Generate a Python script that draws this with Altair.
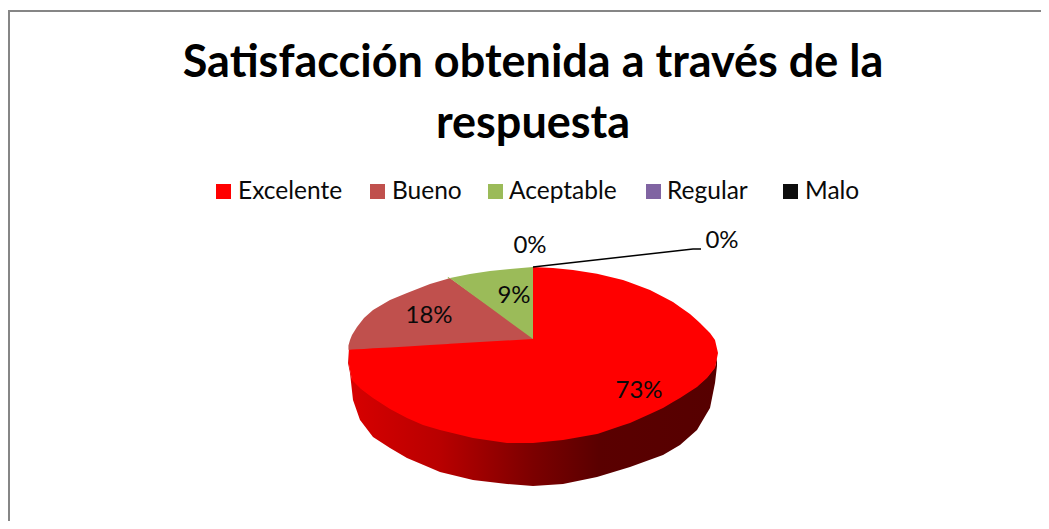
import altair as alt
import numpy as np
import pandas as pd

# ---- values ----
categories = ["Excelente", "Bueno", "Aceptable", "Regular", "Malo"]
shares = [73, 18, 9, 0, 0]
colors = ["#ff0000", "#c0504d", "#9bbb59", "#8064a2", "#0d0d0d"]
title_lines = ["Satisfacción obtenida a través de la", "respuesta"]

# rim of the top face and foot of the side wall (page pixels)
arc_left_x = [348, 350, 352, 357, 364, 373, 390, 407, 430, 450, 470, 490, 510, 533]
arc_left_y = [347, 340, 335, 327, 318, 310, 300, 293, 284, 278, 274, 271, 269, 267]
arc_right_x = [533, 553, 573, 598, 623, 650, 673, 690, 700, 710, 715, 718]
arc_right_y = [267, 268, 270, 274, 280, 290, 302, 314, 323, 333, 340, 353]
rim_x = [348, 349, 352, 361, 373, 390, 407, 423, 440, 473, 507, 533, 563, 597, 630, 663, 680, 697, 707, 715, 718]
rim_y = [349, 365, 380, 389, 398, 409, 418, 425, 430, 438, 443, 443, 440, 434, 423, 408, 398, 387, 378, 368, 353]
foot_x = [348, 350, 353, 360, 373, 390, 407, 440, 473, 507, 533, 563, 597, 630, 663, 680, 697, 710, 715, 717]
foot_y = [363, 373, 400, 420, 437, 448, 458, 472, 480, 484, 486, 484, 477, 467, 455, 445, 430, 408, 383, 366]
wall_stops = [(0.0, "#d80000"), (0.25, "#b80000"), (0.5, "#7c0000"), (0.68, "#5a0000"), (1.0, "#560000")]

pct_labels = ["73%", "18%", "9%", "0%", "0%"]
pct_x = [639, 429, 514, 530, 722]
pct_y = [398, 323, 303, 253, 248]
leader_x = [533, 693, 701]
leader_y = [267, 249, 249]

legend_sq_x = [223.5, 377.5, 495.5, 653.5, 790.5]
legend_tx_x = [238, 392, 509, 667, 805]

# ---- layout helpers ----
VX, VY, A, B, K = 533.0, 339.0, 84.4, 182.0, 0.1724
PAGE_W, PAGE_H = 1033, 513
LAP = 1.0  # lower slice reaches under the one drawn above it, so no seam shows


def edge(share_sum):
    t = np.radians(share_sum * 3.6)
    d = np.cos(t)
    den = 1 + K * d
    return VX + B * np.sin(t) / den, VY - A * d / den


ex, ey = edge(shares[0])
bx, by = edge(shares[0] + shares[1])


def seg(x, x0, y0, x1, y1):
    return np.interp(x, [x0, x1], [y0, y1])


def frame_of(xs, top, bottom, cat):
    return pd.DataFrame(dict(x=np.asarray(xs, float), y=np.asarray(top, float), y2=np.asarray(bottom, float), cat=cat))


# Excelente: left of the vertex under the divider; right of it the full face
xl = np.array(sorted(set(float(x) for x in rim_x if x < VX - LAP) | {VX - LAP}))
xl = xl[xl >= ex]
xr = np.array(sorted(set(rim_x + arc_right_x) - {533}))
xr = xr[xr > VX]
xs = np.concatenate([xl, [VX - LAP + 0.01, VX], xr])
top = np.concatenate([
    seg(xl, ex, ey, VX, VY) - LAP,
    [arc_right_y[0], arc_right_y[0]],
    np.interp(xr, arc_right_x, arc_right_y),
])
df_ex = frame_of(xs, top, np.interp(xs, rim_x, rim_y), categories[0])

# Bueno: runs a little under the green slice along their shared edge
xb = np.array(sorted(set([float(x) for x in arc_left_x if ex <= x < bx]) | {ex, bx, bx + 2 * LAP, VX}))
tb = np.where(xb <= bx + 2 * LAP, np.interp(xb, arc_left_x, arc_left_y), seg(xb, bx, by, VX, VY) - 2 * LAP)
df_bu = frame_of(xb, tb, seg(xb, ex, ey, VX, VY), categories[1])

# Aceptable
xa = np.array(sorted(set([float(x) for x in arc_left_x if x > bx]) | {bx}))
df_ac = frame_of(xa, np.interp(xa, arc_left_x, arc_left_y), seg(xa, bx, by, VX, VY), categories[2])

wx = np.array(sorted(set(rim_x + foot_x)))
wx = wx[wx <= foot_x[-1]]
wall = pd.DataFrame(dict(x=wx, y=np.interp(wx, rim_x, rim_y) - LAP, y2=np.interp(wx, foot_x, foot_y)))

XS = alt.Scale(domain=[8, 8 + PAGE_W], range=[0, PAGE_W], nice=False, zero=False)
YS = alt.Scale(domain=[8, 8 + PAGE_H], range=[0, PAGE_H], nice=False, zero=False)
X = alt.X("x:Q", scale=XS, axis=None)
Y = alt.Y("y:Q", scale=YS, axis=None)
COLOR = alt.Color("cat:N", scale=alt.Scale(domain=categories, range=colors), legend=None)
FONT = "Lato"

frame = alt.Chart(pd.DataFrame(dict(x=[9, 9, 8 + PAGE_W], y=[8 + PAGE_H, 11, 11], i=[0, 1, 2]))).mark_line(
    color="#868686", strokeWidth=2
).encode(x=X, y=Y, order="i:Q")

wall_layer = alt.Chart(wall).mark_area(
    color=alt.Gradient(
        gradient="linear",
        stops=[alt.GradientStop(offset=o, color=c) for o, c in wall_stops],
        x1=0, x2=1, y1=0, y2=0,
    )
).encode(x=X, y=Y, y2="y2:Q")


def face(df, c):
    return alt.Chart(df).mark_area(color=c).encode(x=X, y=Y, y2="y2:Q")


leader = alt.Chart(pd.DataFrame(dict(x=leader_x, y=leader_y, i=[0, 1, 2]))).mark_line(
    color="#000000", strokeWidth=1.5
).encode(x=X, y=Y, order="i:Q")

pct = alt.Chart(pd.DataFrame(dict(x=pct_x, y=pct_y, t=pct_labels))).mark_text(
    font=FONT, fontSize=24, color="#0a0a0a", align="center", baseline="alphabetic"
).encode(x=X, y=Y, text="t:N")

title = alt.Chart(pd.DataFrame(dict(x=[533, 533], y=[77, 138], t=title_lines))).mark_text(
    font=FONT, fontSize=45, fontWeight="bold", color="#000000", align="center", baseline="alphabetic"
).encode(x=X, y=Y, text="t:N")

legend_df = pd.DataFrame(dict(x=legend_sq_x, tx=legend_tx_x, y=[191.5] * 5, ty=[199] * 5, cat=categories))
legend_sq = alt.Chart(legend_df).mark_square(size=225, opacity=1).encode(x=X, y=Y, color=COLOR)
legend_tx = alt.Chart(legend_df).mark_text(
    font=FONT, fontSize=24.5, color="#0a0a0a", align="left", baseline="alphabetic"
).encode(
    x=alt.X("tx:Q", scale=XS, axis=None),
    y=alt.Y("ty:Q", scale=YS, axis=None),
    text="cat:N",
)

chart = alt.layer(
    frame, wall_layer, face(df_ex, colors[0]), face(df_bu, colors[1]), face(df_ac, colors[2]),
    leader, pct, title, legend_sq, legend_tx,
).properties(
    width=PAGE_W, height=PAGE_H, padding=0, autosize=alt.AutoSizeParams(type="none"), background="#ffffff"
).configure_view(stroke=None)

chart.save("out.html", embed_options={"renderer": "svg", "actions": False})
